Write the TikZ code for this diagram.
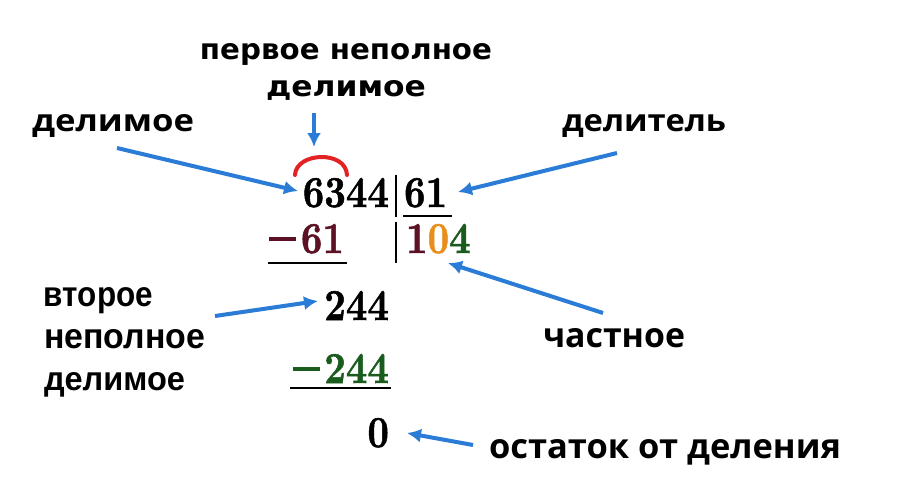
\documentclass[tikz,border=0pt]{standalone}
\usepackage{fontspec}
\usepackage{graphicx}
\usetikzlibrary{arrows.meta}
\newfontfamily\osfont{Open Sans}
\newfontfamily\djfont{DejaVu Sans}
\newfontfamily\lsfont{Liberation Sans}
\newfontfamily\numfont{lmroman10-bold.otf}[FakeBold=1.2]
\definecolor{arrowblue}{RGB}{42,124,214}
\definecolor{maroonq}{RGB}{92,18,36}
\definecolor{orangeq}{RGB}{232,142,28}
\definecolor{greenq}{RGB}{26,92,30}
\definecolor{arcred}{RGB}{226,34,36}
\newcommand{\numbox}[1]{\scalebox{1}[1.18]{\fontsize{37.5}{40}\selectfont\numfont #1}}
\newcommand{\mns}{\rule[0.28em]{0.72em}{0.08em}\hspace{0.12em}}
\newcommand{\lbl}[4]{\resizebox{#2pt}{#3pt}{#1\bfseries #4}}
\tikzset{
  num/.style={inner sep=0pt, outer sep=0pt, text=black},
  lab/.style={inner sep=0pt, outer sep=0pt, text=black},
  bluearrow/.style={draw=arrowblue, line width=4pt, -{Latex[length=14pt,width=14pt]}},
  rulebar/.style={draw=black, line width=1.8pt},
  bracket/.style={draw=arcred, line width=4pt, line cap=round}
}
\begin{document}
\begin{tikzpicture}[x=1pt,y=-1pt]
\fill[white] (0,0) rectangle (900,488);
\path[use as bounding box] (0,0) rectangle (900,488);

% numbers
\node[num, anchor=base east] (dividend) at (389,207) {\numbox{6344}};
\node[num, anchor=base west] (divisor) at (404,207) {\numbox{61}};
\node[num, anchor=base east] (sub1) at (344,253) {\numbox{\color{maroonq}\mns 61}};
\node[num, anchor=base west] (quot) at (406,253) {\numbox{{\color{maroonq}1}{\color{orangeq}0}{\color{greenq}4}}};
\node[num, anchor=base east] (rem1) at (389,320) {\numbox{244}};
\node[num, anchor=base east] (sub2) at (389,383) {\numbox{\color{greenq}\mns 244}};
\node[num, anchor=base east] (rem) at (389,447) {\numbox{0}};

% division bars and rules
\draw[rulebar] (396,175) -- (396,217);
\draw[rulebar] (396,222) -- (396,263);
\draw[rulebar] (403,216) -- (452,216);
\draw[rulebar] (268,263) -- (347,263);
\draw[rulebar] (290,388) -- (391,388);

% red bracket over 63
\draw[bracket] (295,175) .. controls (296,152) and (346,150) .. (347,175);

% labels
\node[lab, anchor=base] (first1) at (346,59) {\lbl{\djfont}{292}{16}{первое неполное}};
\node[lab, anchor=base] (first2) at (346,96) {\lbl{\djfont}{160}{16}{делимое}};
\node[lab, anchor=base west] (ldividend) at (32,131) {\lbl{\osfont}{162}{17}{делимое}};
\node[lab, anchor=base west] (ldivisor) at (562,131) {\lbl{\osfont}{164}{17}{делитель}};
\node[lab, anchor=base west] (lquot) at (543,347) {\lbl{\osfont}{142}{19}{частное}};
\node[lab, anchor=base west] (lrem) at (489,458) {\lbl{\osfont}{352}{19}{остаток от деления}};
\node[lab, anchor=base west] (ls1) at (44,306) {\lbl{\lsfont}{109}{19}{второе}};
\node[lab, anchor=base west] (ls2) at (44,348) {\lbl{\lsfont}{161}{19}{неполное}};
\node[lab, anchor=base west] (ls3) at (44,390) {\lbl{\lsfont}{141}{18}{делимое}};

% arrow endpoints
\coordinate (a1s) at (117,148); \coordinate (a1e) at (298,191);
\coordinate (a2s) at (314,113); \coordinate (a2e) at (314,147);
\coordinate (a3s) at (617,153); \coordinate (a3e) at (458,192);
\coordinate (a4s) at (603,313); \coordinate (a4e) at (448,263);
\coordinate (a5s) at (215,316); \coordinate (a5e) at (318,301);
\coordinate (a6s) at (473,445); \coordinate (a6e) at (407,433);

\draw[bluearrow] (a1s) -- (a1e);
\draw[bluearrow] (a2s) -- (a2e);
\draw[bluearrow] (a3s) -- (a3e);
\draw[bluearrow] (a4s) -- (a4e);
\draw[bluearrow] (a5s) -- (a5e);
\draw[bluearrow] (a6s) -- (a6e);
\end{tikzpicture}
\end{document}
